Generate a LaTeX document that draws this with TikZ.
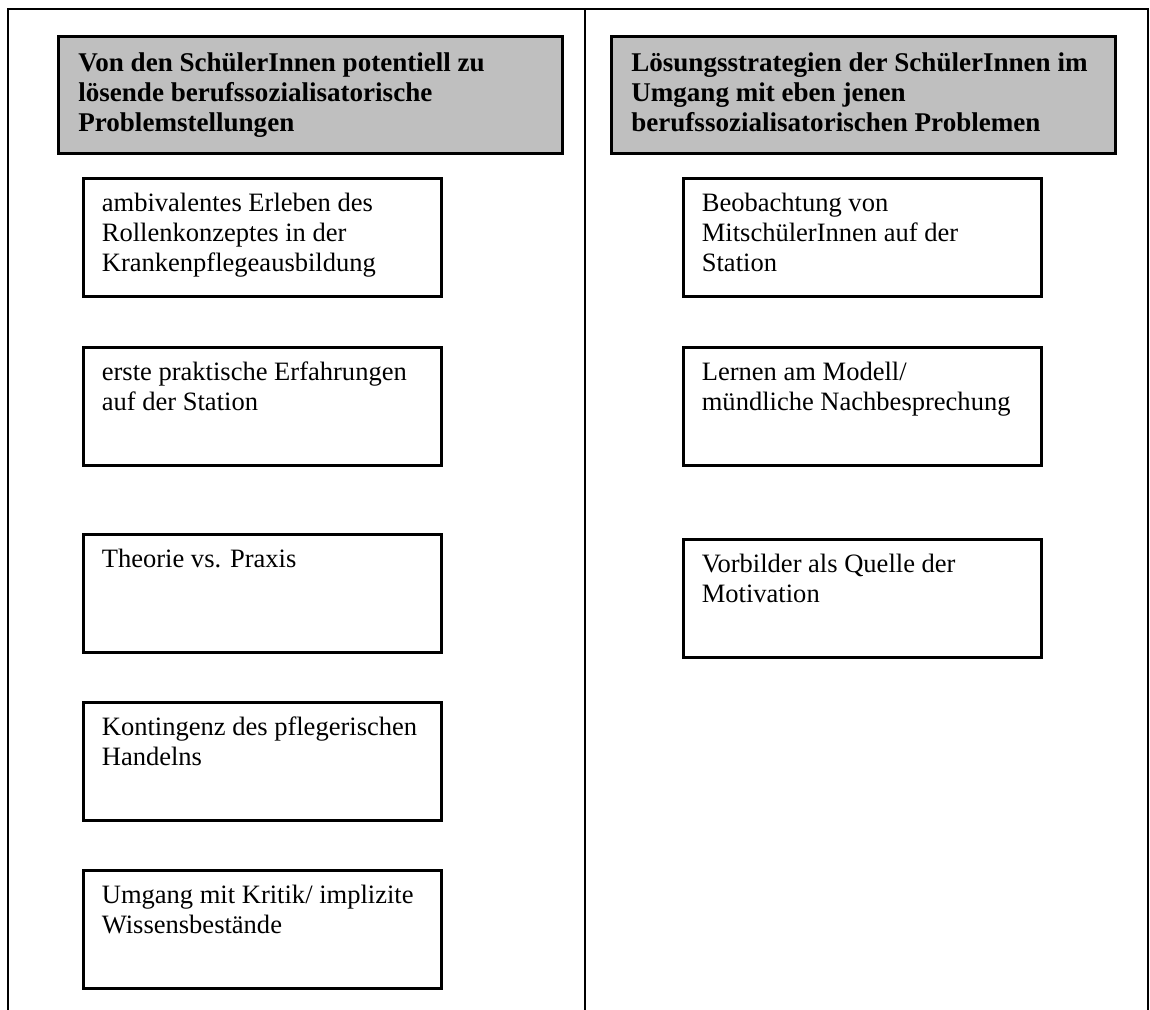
\documentclass[tikz,border=0pt]{standalone}
\usepackage{fontspec}
\setmainfont{Liberation Serif}
\usetikzlibrary{positioning}

\begin{document}
\begin{tikzpicture}[x=0.02cm, y=-0.02cm,
	outerline/.style={line width=1pt},
	headbox/.style={draw, line width=1.8pt, fill=black!25, anchor=north west, minimum width=10.08cm, minimum height=2.34cm, inner sep=0pt},
	itembox/.style={draw, line width=1.8pt, anchor=north west, minimum width=7.16cm, minimum height=2.36cm, inner sep=0pt},
	headtext/.style={align=left, inner sep=0pt, font=\fontsize{15.4}{17.1}\selectfont\bfseries},
	itemtext/.style={align=left, inner sep=0pt, font=\fontsize{15.1}{17.1}\selectfont}]
	
	\useasboundingbox (0,0) rectangle (1150,1010);
	
	% table frame, open at the bottom
	\draw[outerline] (8,1010) -- (8,9) -- (1148,9) -- (1148,1010);
	\draw[outerline] (585,9) -- (585,1010);
	
	% column heads
	\node[headbox](head_p) at (57,35){};
	\node[headtext, below right = 0.34cm and 0.42cm of head_p.north west](head_p_txt){Von den SchülerInnen potentiell zu\\lösende berufssozialisatorische\\Problemstellungen};
	\node[headbox](head_s) at (610,35){};
	\node[headtext, below right = 0.34cm and 0.42cm of head_s.north west](head_s_txt){Lösungsstrategien der SchülerInnen im\\Umgang mit eben jenen\\berufssozialisatorischen Problemen};
	
	% problems
	\node[itembox](p1) at (82,177){};
	\node[itemtext, below right = 0.31cm and 0.39cm of p1.north west](p1_txt){ambivalentes Erleben des\\Rollenkonzeptes in der\\Krankenpflegeausbildung};
	\node[itembox](p2) at (82,346){};
	\node[itemtext, below right = 0.31cm and 0.39cm of p2.north west](p2_txt){erste praktische Erfahrungen\\auf der Station};
	\node[itembox](p3) at (82,533){};
	\node[itemtext, below right = 0.31cm and 0.39cm of p3.north west](p3_txt){Theorie vs. Praxis};
	\node[itembox](p4) at (82,701){};
	\node[itemtext, below right = 0.31cm and 0.39cm of p4.north west](p4_txt){Kontingenz des pflegerischen\\Handelns};
	\node[itembox](p5) at (82,869){};
	\node[itemtext, below right = 0.31cm and 0.39cm of p5.north west](p5_txt){Umgang mit Kritik/ implizite\\Wissensbestände};
	
	% strategies
	\node[itembox](s1) at (682,177){};
	\node[itemtext, below right = 0.31cm and 0.39cm of s1.north west](s1_txt){Beobachtung von\\MitschülerInnen auf der\\Station};
	\node[itembox](s2) at (682,346){};
	\node[itemtext, below right = 0.31cm and 0.39cm of s2.north west](s2_txt){Lernen am Modell/\\mündliche Nachbesprechung};
	\node[itembox](s3) at (682,538){};
	\node[itemtext, below right = 0.31cm and 0.39cm of s3.north west](s3_txt){Vorbilder als Quelle der\\Motivation};
	
\end{tikzpicture}
\end{document}
